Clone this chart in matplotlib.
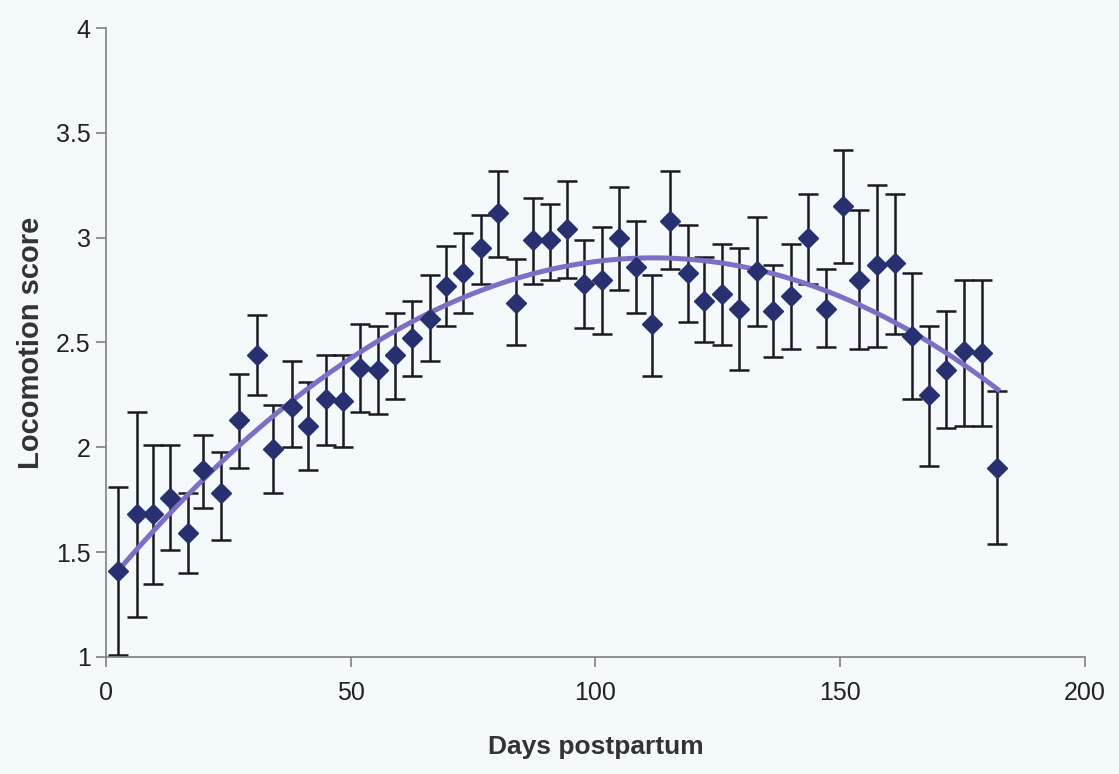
import numpy as np
import matplotlib
matplotlib.use("Agg")
import matplotlib.pyplot as plt

# Mean locomotion score per time bin, with error bar limits
days = [2.5, 6.3, 9.7, 13.1, 16.7, 19.9, 23.6, 27.2, 30.8, 34.2,
        38.0, 41.3, 44.9, 48.5, 51.9, 55.6, 59.0, 62.6, 66.2, 69.4,
        73.0, 76.6, 80.1, 83.7, 87.2, 90.7, 94.1, 97.6, 101.3, 104.8,
        108.3, 111.6, 115.2, 118.8, 122.2, 125.9, 129.3, 132.9, 136.3, 139.9,
        143.5, 147.0, 150.6, 153.9, 157.6, 161.2, 164.6, 168.2, 171.7, 175.3,
        178.9, 182.1]
score = [1.41, 1.68, 1.68, 1.76, 1.59, 1.89, 1.78, 2.13, 2.44, 1.99,
         2.19, 2.10, 2.23, 2.22, 2.38, 2.37, 2.44, 2.52, 2.61, 2.77,
         2.83, 2.95, 3.12, 2.69, 2.99, 2.99, 3.04, 2.78, 2.80, 3.00,
         2.86, 2.59, 3.08, 2.83, 2.70, 2.73, 2.66, 2.84, 2.65, 2.72,
         3.00, 2.66, 3.15, 2.80, 2.87, 2.88, 2.53, 2.25, 2.37, 2.46,
         2.45, 1.90]
upper = [1.81, 2.17, 2.01, 2.01, 1.78, 2.06, 1.98, 2.35, 2.63, 2.20,
         2.41, 2.31, 2.44, 2.44, 2.59, 2.58, 2.64, 2.70, 2.82, 2.96,
         3.02, 3.11, 3.32, 2.90, 3.19, 3.16, 3.27, 2.99, 3.05, 3.24,
         3.08, 2.82, 3.32, 3.06, 2.91, 2.97, 2.95, 3.10, 2.87, 2.97,
         3.21, 2.85, 3.42, 3.13, 3.25, 3.21, 2.83, 2.58, 2.65, 2.80,
         2.80, 2.27]
lower = [1.01, 1.19, 1.35, 1.51, 1.40, 1.71, 1.56, 1.90, 2.25, 1.78,
         2.00, 1.89, 2.01, 2.00, 2.17, 2.16, 2.23, 2.34, 2.41, 2.58,
         2.64, 2.78, 2.91, 2.49, 2.78, 2.80, 2.81, 2.57, 2.54, 2.75,
         2.64, 2.34, 2.85, 2.60, 2.50, 2.49, 2.37, 2.58, 2.43, 2.47,
         2.78, 2.48, 2.88, 2.47, 2.48, 2.54, 2.23, 1.91, 2.09, 2.10,
         2.10, 1.54]

# Values of the cubic trend line at selected days
trend_days = [2.5, 19.9, 36.5, 52.0, 66.2, 80.0, 96.8, 113.0, 133.6, 146.0,
              154.0, 164.2, 182.6]
trend_values = [1.41, 1.86, 2.18, 2.45, 2.64, 2.79, 2.88, 2.90, 2.84, 2.76,
                2.67, 2.56, 2.27]

x_ticks = [0, 50, 100, 150, 200]
y_ticks = [1, 1.5, 2, 2.5, 3, 3.5, 4]
y_tick_labels = ["1", "1.5", "2", "2.5", "3", "3.5", "4"]

plt.rcParams["font.family"] = ["Liberation Sans", "DejaVu Sans"]

x = np.array(days)
y = np.array(score)
err = np.vstack([y - np.array(lower), np.array(upper) - y])

fig = plt.figure(figsize=(11.19, 7.74), dpi=100)
bg = "#f4f9fc"
fig.patch.set_facecolor(bg)
ax = fig.add_axes([0.0947, 0.1512, 0.8749, 0.8126])
ax.set_facecolor(bg)

ax.errorbar(x, y, yerr=err, fmt="none", ecolor="#1a1a22", elinewidth=1.8,
            capsize=7, capthick=1.8, zorder=2)

# Third-order polynomial trend line
coef = np.polyfit(trend_days, trend_values, 3)
xf = np.linspace(min(trend_days), max(trend_days), 300)
ax.plot(xf, np.polyval(coef, xf), color="#7d6fc6", lw=3.6,
        solid_capstyle="butt", zorder=3)

ax.plot(x, y, linestyle="none", marker="D", markersize=10,
        color="#283070", markeredgecolor="#283070", zorder=4)

ax.set_xlim(0, 200)
ax.set_ylim(1, 4)
ax.set_xticks(x_ticks)
ax.set_yticks(y_ticks)
ax.set_yticklabels(y_tick_labels)

for s in ("top", "right"):
    ax.spines[s].set_visible(False)
for s in ("left", "bottom"):
    ax.spines[s].set_color("#808080")
    ax.spines[s].set_linewidth(1.2)

ax.tick_params(axis="both", direction="out", length=7, width=1.2,
               color="#808080", labelsize=18, labelcolor="#222222")
ax.tick_params(axis="x", pad=10)
ax.tick_params(axis="y", pad=4)

ax.set_xlabel("Days postpartum", fontsize=19, fontweight="bold",
              color="#333333", labelpad=22)
ax.set_ylabel("Locomotion score", fontsize=21, fontweight="bold",
              color="#333333", labelpad=8)

fig.savefig("out.png", dpi=100, facecolor=bg)
